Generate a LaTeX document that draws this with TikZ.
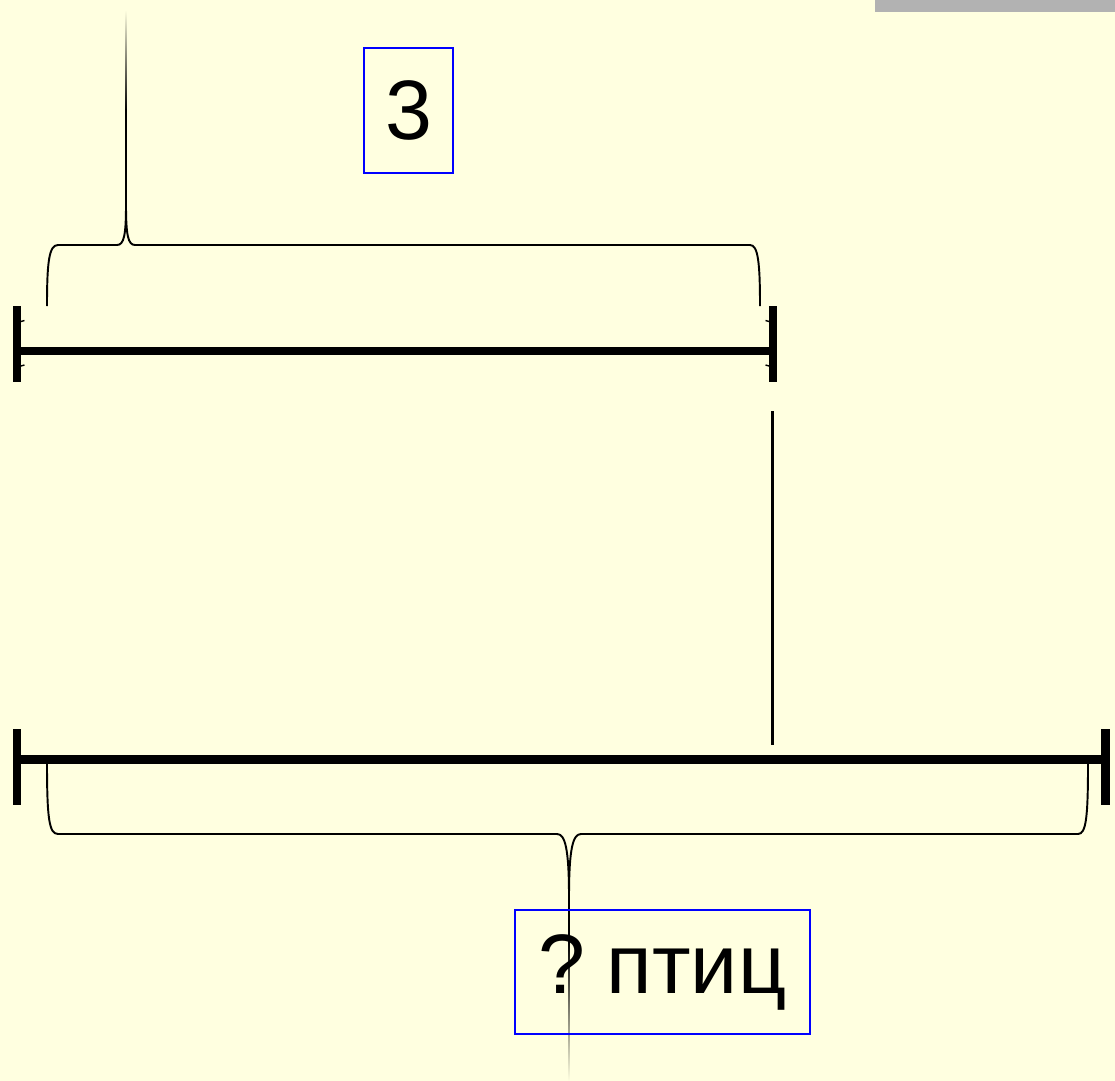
\documentclass[tikz,border=0pt]{standalone}
\usepackage{fontspec}
\setmainfont{Liberation Sans}
\definecolor{paper}{RGB}{255,255,224}
\definecolor{bargray}{RGB}{178,178,178}

\begin{document}
\begin{tikzpicture}[x=0.02cm, y=-0.02cm,
		segment/.style={line width=4.6pt},
		brace/.style={line width=1.1pt},
		barb/.style={line width=0.8pt},
		numbox/.style={draw=blue, line width=1.1pt, inner sep=0pt, font=\fontsize{48}{56}\selectfont}]
	% background and bar
	\fill[paper] (0,0) rectangle (1115,1081);
	\useasboundingbox (0,0) rectangle (1115,1081);
	\fill[bargray] (875,0) rectangle (1115,12);
	% the two segments
	\coordinate (a1) at (17,351);
	\coordinate (a2) at (773,351);
	\coordinate (b1) at (17,759.5);
	\coordinate (b2) at (1105.5,759.5);
	\draw[segment] (a1) -- (a2);
	\draw[segment] (b1) -- (b2);
	\foreach \p in {a1,a2}
		\draw[segment] ([yshift=0.9cm]\p) -- ([yshift=-0.62cm]\p);
	\foreach \p in {b1,b2}
		\draw[segment] ([yshift=0.61cm]\p) -- ([yshift=-0.91cm]\p);
	% small barbs
	\draw[barb] (21,321.5) -- (24.5,320.5) (21,366) -- (24.5,365);
	\draw[barb] (769,321.5) -- (765.5,320.5) (769,366) -- (765.5,365);
	% vertical guide
	\coordinate (v1) at (772.5,411);
	\coordinate (v2) at (772.5,745);
	\draw[line width=1.2pt] (v1) -- (v2);
	% top brace
	\draw[brace] (47,306) .. controls (47,262) and (49,245) .. (58,245) -- (117,245)
		.. controls (124,245) and (126,235) .. (126,205)
		.. controls (126,235) and (128,245) .. (135,245) -- (750,245)
		.. controls (758,245) and (760,262) .. (760,306);
	\shade[top color=paper, bottom color=black] (125.3,10) rectangle (126.7,110);
	\fill[black] (125.3,109) rectangle (126.7,206);
	% bottom brace
	\draw[brace] (47,762) .. controls (47,818) and (49,834) .. (58,834) -- (557,834)
		.. controls (565,834) and (569,848) .. (569,897)
		.. controls (569,848) and (573,834) .. (581,834) -- (1078,834)
		.. controls (1086,834) and (1088,818) .. (1088,764);
	\fill[black] (568.3,896) rectangle (569.7,942);
	\shade[top color=black, middle color=black!45, bottom color=paper] (568.3,941) rectangle (569.7,1081);
	% labels
	\node[numbox, minimum width=1.78cm, minimum height=2.5cm] (three) at (408.5,110.5) {3};
	\node[numbox, minimum width=5.9cm, minimum height=2.48cm] (birds) at (662.5,972) {?\hspace{0.25em}птиц};
\end{tikzpicture}
\end{document}
